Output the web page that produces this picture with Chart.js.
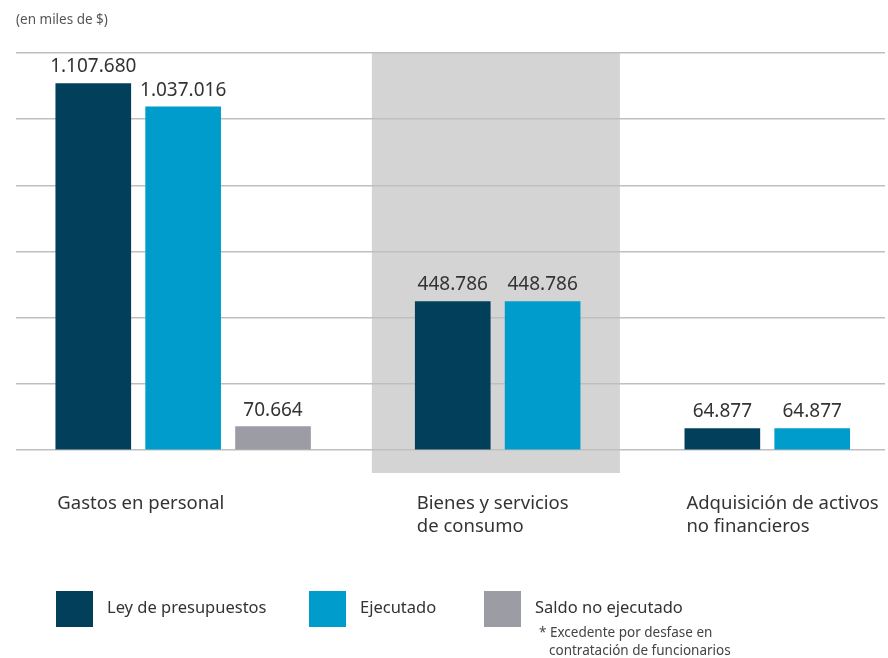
<!DOCTYPE html>
<html>
<head>
<meta charset="utf-8">
<script src="https://cdn.jsdelivr.net/npm/chart.js@4"></script>
<style>
  body { margin: 0; background: #fff; font-family: "Noto Sans", sans-serif; color: #333; }
  #wrap { position: relative; width: 888px; height: 658px; overflow: hidden; }
  canvas { position: absolute; left: 0; top: 0; }
  .txt { position: absolute; white-space: nowrap; line-height: 1; }
  .caja { position: absolute; width: 37px; height: 36px; }
</style>
</head>
<body>
<div id="wrap">
  <canvas id="grafico" width="888" height="658"></canvas>
  <div class="txt" style="left:16px; top:13px; font-size:13.5px; color:#555;">(en miles de $)</div>
  <div id="leyenda"></div>
  <div class="txt" style="left:539px; top:626px; font-size:13.5px; color:#444;">* Excedente por desfase en</div>
  <div class="txt" style="left:549px; top:644px; font-size:13.5px; color:#444;">contratación de funcionarios</div>
</div>
<script>
// datos (en miles de $)
const categorias = [["Gastos en personal"], ["Bienes y servicios", "de consumo"], ["Adquisición de activos", "no financieros"]];
const series = ["Ley de presupuestos", "Ejecutado", "Saldo no ejecutado"];
const ley = [1107680, 448786, 64877];
const ejecutado = [1037016, 448786, 64877];
const saldo = [70664, null, null];
const yMax = 1200000;
const yPaso = 200000;

const colores = ['#023f5b', '#009ccc', '#9c9ca4'];
const valores = [ley, ejecutado, saldo];

// cada barra ocupa un puesto en el eje x, con un puesto vacio entre grupos
const inicios = [];
let puesto = 0;
categorias.forEach((c, g) => {
  inicios.push(puesto);
  puesto += valores.filter(v => v[g] != null).length + 1;
});

const datasets = series.map((nombre, s) => ({
  label: nombre,
  data: valores[s].map((v, g) => v == null ? null : { x: inicios[g] + s, y: v }).filter(Boolean),
  backgroundColor: colores[s],
  barThickness: 75,
  grouped: false
}));

const miles = v => String(v).replace(/\B(?=(\d{3})+(?!\d))/g, '.');

// fondo gris detras del grupo del medio
const fondo = {
  id: 'fondo',
  beforeDraw(chart) {
    const x = chart.scales.x, a = chart.chartArea, ctx = chart.ctx;
    const x1 = x.getPixelForValue(inicios[1] - 0.9);
    const x2 = x.getPixelForValue(inicios[1] + 1 + 0.86);
    ctx.save();
    ctx.fillStyle = '#d4d4d4';
    ctx.fillRect(x1, a.top - 1, x2 - x1, a.bottom + 23 - (a.top - 1));
    ctx.restore();
  }
};

// etiquetas de valor sobre cada barra
const etiquetas = {
  id: 'etiquetas',
  afterDatasetsDraw(chart) {
    const ctx = chart.ctx;
    ctx.save();
    ctx.font = '19px "Noto Sans"';
    ctx.fillStyle = '#333';
    ctx.textAlign = 'center';
    ctx.textBaseline = 'middle';
    chart.data.datasets.forEach((ds, i) => {
      chart.getDatasetMeta(i).data.forEach((bar, j) => {
        ctx.fillText(miles(ds.data[j].y), bar.x, bar.y - 16.5);
      });
    });
    ctx.restore();
  }
};

new Chart(document.getElementById('grafico'), {
  type: 'bar',
  data: { datasets: datasets },
  options: {
    responsive: false,
    animation: false,
    layout: { padding: { left: 16, right: 3, top: 53, bottom: 122 } },
    plugins: { legend: { display: false }, tooltip: { enabled: false } },
    scales: {
      x: {
        type: 'linear',
        offset: false,
        min: -0.86,
        max: 8.81,
        grid: { display: false, drawTicks: false },
        border: { display: false },
        afterBuildTicks: axis => { axis.ticks = inicios.map(v => ({ value: v - 0.4 })); },
        afterFit: axis => {
          axis.height = 86;
          axis.paddingLeft = 0;
          axis.paddingRight = 0;
        },
        ticks: {
          align: 'start',
          maxRotation: 0,
          autoSkip: false,
          padding: 42,
          color: '#333',
          font: { family: '"Noto Sans"', size: 18.5, lineHeight: 1.25 },
          callback: (v, i) => categorias[i]
        }
      },
      y: {
        min: 0,
        max: yMax,
        ticks: { display: false, stepSize: yPaso },
        grid: { color: '#bfbfbf', lineWidth: 1.5, drawTicks: false },
        border: { display: false }
      }
    }
  },
  plugins: [fondo, etiquetas]
});

// leyenda
const posLeyenda = [56, 309, 484];
const leyenda = document.getElementById('leyenda');
series.forEach((nombre, s) => {
  const caja = document.createElement('div');
  caja.className = 'caja';
  caja.style.left = posLeyenda[s] + 'px';
  caja.style.top = '591px';
  caja.style.background = colores[s];
  leyenda.appendChild(caja);
  const t = document.createElement('div');
  t.className = 'txt';
  t.style.left = (posLeyenda[s] + 51) + 'px';
  t.style.top = '599px';
  t.style.fontSize = '16.5px';
  t.textContent = nombre;
  leyenda.appendChild(t);
});
</script>
</body>
</html>
